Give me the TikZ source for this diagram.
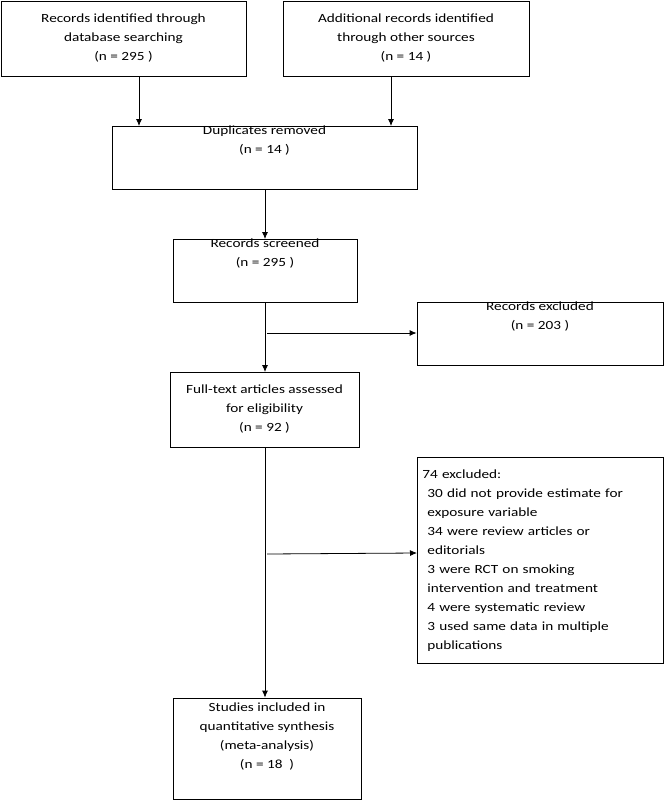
\documentclass[tikz,border=0pt]{standalone}
\usepackage{fontspec}
\setmainfont{Carlito}[FakeStretch=1.22]
\usetikzlibrary{arrows.meta}
\begin{document}
\begin{tikzpicture}[x=1pt,y=-1pt,
  box/.style={draw,line width=0.8pt,align=center,inner sep=0pt,font=\fontsize{12.5}{19}\selectfont},
  arr/.style={-{Latex[length=7pt,width=6pt]},line width=0.8pt}]
\useasboundingbox (0,0) rectangle (664,800);
\node[box,minimum width=245,minimum height=75] (a) at (123.5,38.5) {Records identified through\\database searching\\(n = 295 )};
\node[box,minimum width=246,minimum height=75] (b) at (406,38.5) {Additional records identified\\through other sources\\(n = 14 )};
\node[box,minimum width=305,minimum height=63] (c) at (264.5,157.5) {Duplicates removed\\(n = 14 )\\[16pt]};
\node[box,minimum width=184,minimum height=63] (d) at (265,270.5) {Records screened\\(n = 295 )\\[16pt]};
\node[box,minimum width=246,minimum height=63] (e) at (540,333.5) {Records excluded\\(n = 203 )\\[16pt]};
\node[box,minimum width=189,minimum height=75] (f) at (264.5,409.5) {Full-text articles assessed\\for eligibility\\(n = 92 )};
\node[box,minimum width=246,minimum height=206,align=left,anchor=north west,text width=236,inner xsep=5pt,inner ysep=12pt] (g) at (417,457) {74 excluded:\\
\hspace*{5pt}30 did not provide estimate for\\ \hspace*{5pt}exposure variable\\
\hspace*{5pt}34 were review articles or\\ \hspace*{5pt}editorials\\
\hspace*{5pt}3 were RCT on smoking\\ \hspace*{5pt}intervention and treatment\\
\hspace*{5pt}4 were systematic review\\
\hspace*{5pt}3 used same data in multiple\\ \hspace*{5pt}publications};
\node[box,minimum width=188,minimum height=101] (h) at (267,748.5) {Studies included in\\quantitative synthesis\\(meta-analysis)\\(n = 18\ \ )\\[6pt]};
\draw[arr] (139,76) -- (139,126);
\draw[arr] (391,76) -- (391,126);
\draw[arr] (265,189) -- (265,239);
\draw[arr] (265,302) -- (265,372);
\draw[arr] (267,333) -- (e.west|-0,333);
\draw[arr] (265,447) -- (h.north-|265,0);
\draw[arr] (267,554) -- (g.west|-0,553);
\end{tikzpicture}
\end{document}
